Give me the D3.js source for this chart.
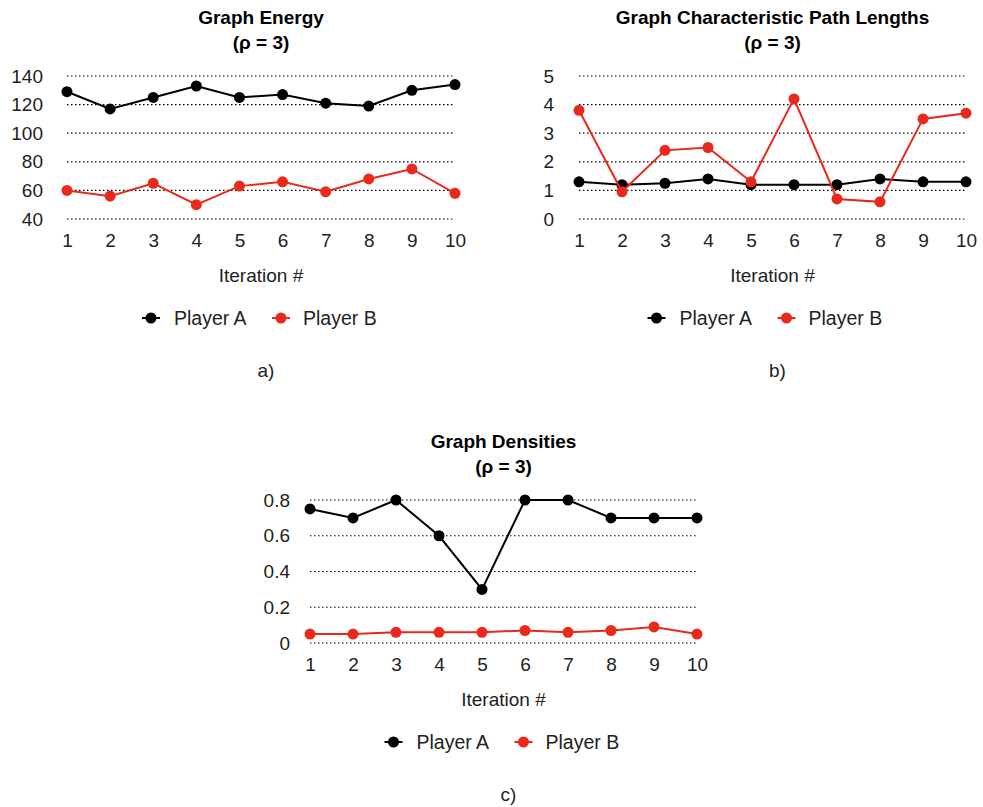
<!DOCTYPE html>
<html><head><meta charset="utf-8">
<script src="https://cdn.jsdelivr.net/npm/d3@7"></script>
<style>body{margin:0;background:#fff}svg{display:block;font-family:"Liberation Sans",Arial,Helvetica,sans-serif}</style>
</head><body>
<svg id="chart" width="983" height="807"></svg>
<script>
const iterations = [1,2,3,4,5,6,7,8,9,10];
const seriesNames = ["Player A","Player B"];
const colors = ["#000000","#e8291c"];

const energyA = [129,117,125,133,125,127,121,119,130,134];
const energyB = [60,56,65,50,63,66,59,68,75,58];
const energyTicks = [40,60,80,100,120,140];

const pathA = [1.3,1.2,1.25,1.4,1.2,1.2,1.2,1.4,1.3,1.3];
const pathB = [3.8,0.95,2.4,2.5,1.3,4.2,0.7,0.6,3.5,3.7];
const pathTicks = [0,1,2,3,4,5];

const densA = [0.75,0.7,0.8,0.6,0.3,0.8,0.8,0.7,0.7,0.7];
const densB = [0.05,0.05,0.06,0.06,0.06,0.07,0.06,0.07,0.09,0.05];
const densTicks = [0,0.2,0.4,0.6,0.8];

const svg = d3.select("#chart");

function drawChart(cfg){
  const g = svg.append("g");
  const x = d3.scaleLinear().domain([1,10]).range([cfg.x0,cfg.x1]);
  const y = d3.scaleLinear().domain([cfg.ticks[0], cfg.ticks[cfg.ticks.length-1]]).range([cfg.yb,cfg.yt]);
  g.selectAll(".grid").data(cfg.ticks).join("line")
    .attr("x1",cfg.x0).attr("x2",cfg.x1)
    .attr("y1",d=>y(d)).attr("y2",d=>y(d))
    .attr("stroke","#000").attr("stroke-width",1.2).attr("stroke-dasharray","1.5,2.5");
  const yAxis = d3.axisLeft(y).tickValues(cfg.ticks).tickSize(0).tickPadding(cfg.ypad).tickFormat(d=>String(d));
  const ya = g.append("g").attr("transform",`translate(${cfg.x0},0)`).call(yAxis);
  ya.select(".domain").remove();
  ya.selectAll("text").attr("font-size",19).attr("fill","#222").attr("font-family","Liberation Sans, Arial, sans-serif");
  const xAxis = d3.axisBottom(x).tickValues(iterations).tickSize(0).tickPadding(0).tickFormat(d=>String(d));
  const xa = g.append("g").attr("transform",`translate(0,${cfg.yb+14})`).call(xAxis);
  xa.select(".domain").remove();
  xa.selectAll("text").attr("font-size",19).attr("fill","#222").attr("font-family","Liberation Sans, Arial, sans-serif");
  const cx = (cfg.x0+cfg.x1)/2;
  g.append("text").attr("x",cx).attr("y",cfg.yb+63).attr("text-anchor","middle").attr("font-size",19).attr("fill","#222").text("Iteration #");
  g.append("text").attr("x",cx).attr("y",cfg.yt-52).attr("text-anchor","middle").attr("font-size",19).attr("font-weight","bold").text(cfg.title);
  g.append("text").attr("x",cx).attr("y",cfg.yt-27).attr("text-anchor","middle").attr("font-size",19).attr("font-weight","bold").text("(ρ = 3)");
  const line = d3.line().x((d,i)=>x(iterations[i])).y(d=>y(d));
  [cfg.a, cfg.b].forEach((vals,k)=>{
    g.append("path").datum(vals).attr("d",line).attr("fill","none").attr("stroke",colors[k]).attr("stroke-width",2);
    g.selectAll(".pt"+k).data(vals).join("circle")
      .attr("cx",(d,i)=>x(iterations[i])).attr("cy",d=>y(d)).attr("r",5.5).attr("fill",colors[k]);
  });
  const ly = cfg.yb+99;
  const offs = [[-110,-87],[20,42]];
  seriesNames.forEach((n,k)=>{
    const mx = cx + offs[k][0] + cfg.lshift;
    g.append("line").attr("x1",mx-9).attr("x2",mx+9).attr("y1",ly).attr("y2",ly).attr("stroke",colors[k]).attr("stroke-width",2);
    g.append("circle").attr("cx",mx).attr("cy",ly).attr("r",5.5).attr("fill",colors[k]);
    g.append("text").attr("x",cx+offs[k][1]+cfg.lshift).attr("y",ly+7).attr("font-size",19.5).attr("fill","#222").text(n);
  });
  g.append("text").attr("x",cx+5).attr("y",cfg.yb+158).attr("text-anchor","middle").attr("font-size",19).attr("fill","#222").text(cfg.caption);
}

drawChart({title:"Graph Energy", x0:67, x1:455, yt:76, yb:219, ticks:energyTicks, a:energyA, b:energyB, ypad:24, caption:"a)", lshift:0});
drawChart({title:"Graph Characteristic Path Lengths", x0:579, x1:966, yt:76, yb:219, ticks:pathTicks, a:pathA, b:pathB, ypad:25, caption:"b)", lshift:-6});
drawChart({title:"Graph Densities", x0:310, x1:697, yt:500, yb:643, ticks:densTicks, a:densA, b:densB, ypad:20, caption:"c)", lshift:0});
</script>
</body></html>
